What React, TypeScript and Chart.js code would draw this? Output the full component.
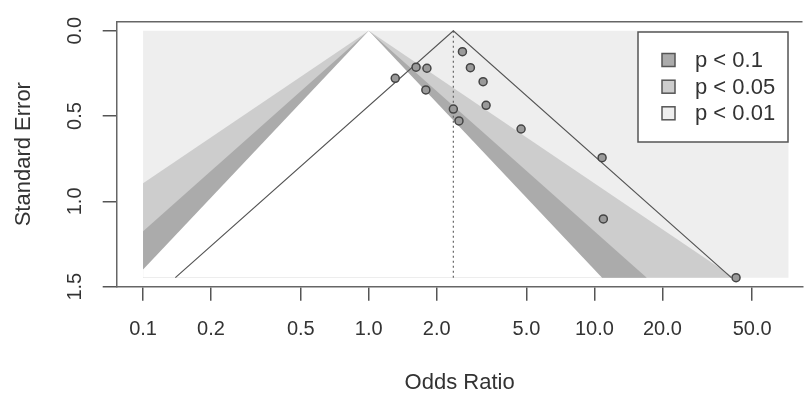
import React, { useEffect, useRef } from 'react';
import { Chart, registerables } from 'chart.js';

Chart.register(...registerables);

// ---- data ----
const studyOddsRatios = [1.31, 1.62, 1.81, 1.79, 2.6, 2.82, 3.21, 3.31, 2.37, 2.51, 4.73, 10.81, 10.95, 42.4];
const studyStdErrors = [0.279, 0.214, 0.22, 0.347, 0.123, 0.217, 0.299, 0.437, 0.459, 0.529, 0.576, 0.744, 1.103, 1.447];
const pooledOddsRatio = 2.37;
const funnelZ = 1.96;
const contourZ = [1.645, 1.96, 2.576];
const contourLabels = ['p < 0.1', 'p < 0.05', 'p < 0.01'];
const contourColors = ['#ababab', '#cdcdcd', '#eeeeee'];
const shadeRangeOR = [0.1, 72.4];
const xTickValues = [0.1, 0.2, 0.5, 1, 2, 5, 10, 20, 50];
const yTickValues = [0, 0.5, 1.0, 1.5];
const xAxisTitle = 'Odds Ratio';
const yAxisTitle = 'Standard Error';

const FONT = '"Liberation Sans", Arial, Helvetica, sans-serif';

export default function App() {
  const ref = useRef<HTMLCanvasElement>(null);

  useEffect(() => {
    if (!ref.current) return;
    const maxSE = Math.max(...studyStdErrors);
    const [lo, hi] = shadeRangeOR;

    const contourPolygon = (z: number) => {
      const pts: { x: number; y: number }[] = [{ x: 1, y: 0 }];
      const rightX = Math.exp(z * maxSE);
      if (rightX <= hi) pts.push({ x: rightX, y: maxSE });
      else {
        pts.push({ x: hi, y: Math.log(hi) / z });
        pts.push({ x: hi, y: maxSE });
      }
      const leftX = Math.exp(-z * maxSE);
      if (leftX >= lo) pts.push({ x: leftX, y: maxSE });
      else {
        pts.push({ x: lo, y: maxSE });
        pts.push({ x: lo, y: -Math.log(lo) / z });
      }
      pts.push({ x: 1, y: 0 });
      return pts;
    };

    const shape = (data: any[], color: string, order: number) => ({
      data,
      showLine: true,
      fill: 'shape',
      backgroundColor: color,
      borderColor: 'rgba(0,0,0,0)',
      borderWidth: 0,
      pointRadius: 0,
      tension: 0,
      order,
    });

    const lnP = Math.log(pooledOddsRatio);

    const datasets: any[] = [
      {
        label: 'studies',
        data: studyOddsRatios.map((x, i) => ({ x, y: studyStdErrors[i] })),
        pointRadius: 4,
        pointBackgroundColor: '#9a9a9a',
        pointBorderColor: '#444',
        pointBorderWidth: 1.5,
        showLine: false,
        order: 0,
      },
      {
        label: 'funnel',
        data: [
          { x: Math.exp(lnP - funnelZ * maxSE), y: maxSE },
          { x: pooledOddsRatio, y: 0 },
          { x: Math.exp(lnP + funnelZ * maxSE), y: maxSE },
        ],
        showLine: true,
        borderColor: '#555',
        borderWidth: 1.2,
        pointRadius: 0,
        fill: false,
        order: 2,
      },
      {
        label: 'refline',
        data: [
          { x: pooledOddsRatio, y: 0 },
          { x: pooledOddsRatio, y: maxSE },
        ],
        showLine: true,
        borderColor: '#666',
        borderWidth: 1.2,
        borderDash: [2, 3],
        pointRadius: 0,
        fill: false,
        order: 3,
      },
      shape(contourPolygon(contourZ[0]), '#ffffff', 7),
      shape(contourPolygon(contourZ[1]), contourColors[0], 8),
      shape(contourPolygon(contourZ[2]), contourColors[1], 9),
      shape(
        [
          { x: lo, y: 0 },
          { x: hi, y: 0 },
          { x: hi, y: maxSE },
          { x: lo, y: maxSE },
          { x: lo, y: 0 },
        ],
        contourColors[2],
        10
      ),
    ];

    const decor = {
      id: 'funnelDecor',
      afterDraw(chart: any) {
        const { ctx, chartArea, scales } = chart;
        ctx.save();
        // top border of box
        ctx.strokeStyle = '#666';
        ctx.lineWidth = 1.5;
        ctx.beginPath();
        ctx.moveTo(chartArea.left, chartArea.top);
        ctx.lineTo(chartArea.right, chartArea.top);
        ctx.stroke();

        // rotated y tick labels
        ctx.fillStyle = '#333';
        ctx.font = `20px ${FONT}`;
        ctx.textAlign = 'center';
        ctx.textBaseline = 'middle';
        for (const v of yTickValues) {
          const py = scales.y.getPixelForValue(v);
          ctx.save();
          ctx.translate(75, py);
          ctx.rotate(-Math.PI / 2);
          ctx.fillText(v.toFixed(1), 0, 0);
          ctx.restore();
        }

        // legend
        const bx = 638, by = 32, bw = 150, bh = 110;
        ctx.fillStyle = '#ffffff';
        ctx.fillRect(bx, by, bw, bh);
        ctx.strokeStyle = '#555';
        ctx.lineWidth = 1.5;
        ctx.strokeRect(bx, by, bw, bh);
        const rowY = [60, 86.7, 113.3];
        ctx.font = `22px ${FONT}`;
        ctx.textAlign = 'left';
        ctx.textBaseline = 'middle';
        contourLabels.forEach((lab, i) => {
          const cy = rowY[i];
          ctx.fillStyle = contourColors[i];
          ctx.fillRect(662, cy - 6.5, 13, 13);
          ctx.strokeStyle = '#555';
          ctx.lineWidth = 1.5;
          ctx.strokeRect(662, cy - 6.5, 13, 13);
          ctx.fillStyle = '#333';
          ctx.fillText(lab, 695, cy + 1);
        });
        ctx.restore();
      },
    };

    const xMin = Math.pow(10, -1.1169);
    const xMax = Math.pow(10, 1.9218);

    const chart = new Chart(ref.current, {
      type: 'scatter',
      data: { datasets },
      options: {
        animation: false,
        responsive: false,
        layout: { padding: { top: 21.7, right: 0, left: 0, bottom: 0 } },
        plugins: {
          legend: { display: false },
          tooltip: { enabled: false },
        },
        scales: {
          x: {
            type: 'logarithmic',
            position: 'bottom',
            min: xMin,
            max: xMax,
            afterBuildTicks: (s: any) => {
              s.ticks = xTickValues.map((v) => ({ value: v }));
            },
            afterFit: (s: any) => {
              s.height = 107.3;
            },
            grid: { drawOnChartArea: false, drawTicks: true, tickLength: 14, color: '#555', lineWidth: 1.5 },
            border: { display: true, color: '#666', width: 1.5 },
            ticks: {
              autoSkip: false,
              maxRotation: 0,
              minRotation: 0,
              padding: 17,
              color: '#333',
              font: { family: FONT, size: 20 },
              callback: (v: any) => Number(v).toFixed(1),
            },
            title: {
              display: true,
              text: xAxisTitle,
              color: '#333',
              font: { family: FONT, size: 22 },
              padding: { top: 0, bottom: -2 },
            },
          },
          y: {
            type: 'linear',
            position: 'left',
            reverse: true,
            min: -0.0527,
            max: 1.5,
            afterBuildTicks: (s: any) => {
              s.ticks = yTickValues.map((v) => ({ value: v }));
            },
            afterFit: (s: any) => {
              s.width = 116.7;
            },
            grid: { drawOnChartArea: false, drawTicks: true, tickLength: 14, color: '#555', lineWidth: 1.5 },
            border: { display: true, color: '#666', width: 1.5 },
            ticks: { display: false },
            title: {
              display: true,
              text: yAxisTitle,
              color: '#333',
              font: { family: FONT, size: 22 },
              padding: { top: 10.8, bottom: 0 },
            },
          },
        },
      } as any,
      plugins: [decor],
    });

    return () => chart.destroy();
  }, []);

  return (
    <div style={{ position: 'absolute', left: 0, top: 0, width: 808, height: 394, background: '#fff' }}>
      <canvas ref={ref} width={808} height={394} style={{ display: 'block' }} />
    </div>
  );
}
